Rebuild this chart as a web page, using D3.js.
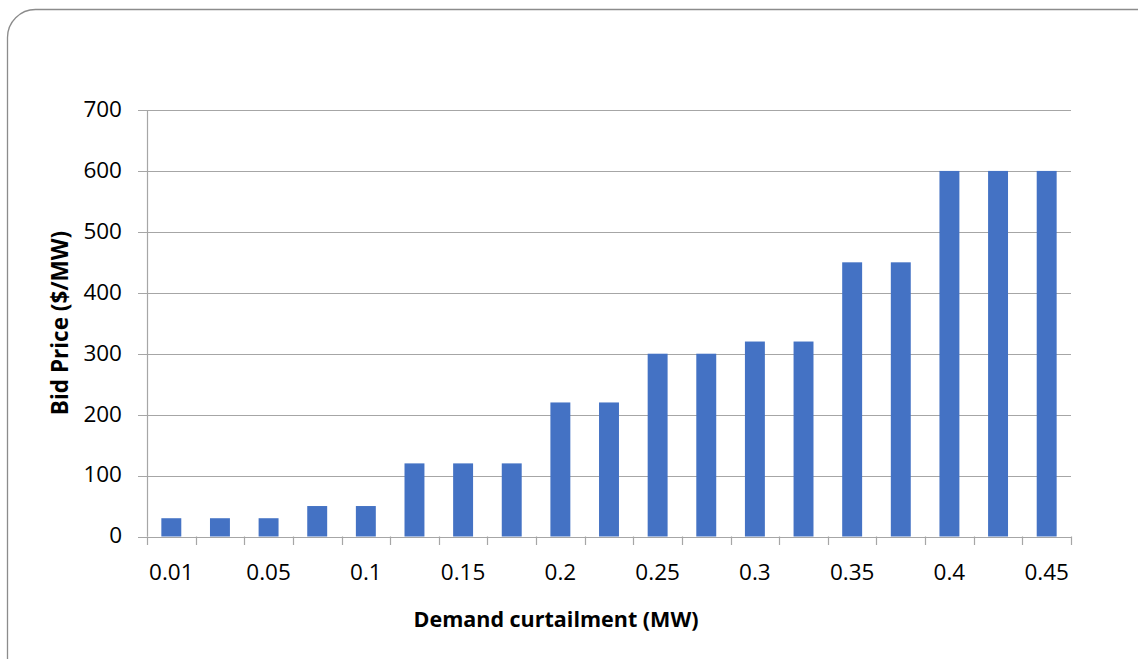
<!DOCTYPE html>
<html>
<head>
<meta charset="utf-8">
<script src="https://cdn.jsdelivr.net/npm/d3@7"></script>
<style>
  html, body { margin: 0; padding: 0; background: #fff; }
  svg { display: block; }
  text { font-family: "Open Sans", "Noto Sans", sans-serif; fill: #000; }
</style>
</head>
<body>
<svg id="chart" width="1138" height="659"></svg>
<script>
// Demand curtailment steps (MW) and the bid price offered for each step ($/MW)
const categories = ["0.01", "0.025", "0.05", "0.075", "0.1", "0.125", "0.15", "0.175", "0.2", "0.225",
                    "0.25", "0.275", "0.3", "0.325", "0.35", "0.375", "0.4", "0.425", "0.45"];
const bidPrice = [30, 30, 30, 50, 50, 120, 120, 120, 220, 220, 300, 300, 320, 320, 450, 450, 600, 600, 600];
const yTicks = [0, 100, 200, 300, 400, 500, 600, 700];
// Only every other category is labelled along the axis
const xLabelled = ["0.01", "0.05", "0.1", "0.15", "0.2", "0.25", "0.3", "0.35", "0.4", "0.45"];

const svg = d3.select("#chart");

// chart frame with rounded corners
svg.append("rect")
  .attr("x", 7.5).attr("y", 9.5)
  .attr("width", 1160).attr("height", 680)
  .attr("rx", 28).attr("ry", 28)
  .attr("fill", "#fff")
  .attr("stroke", "#8c8c8c").attr("stroke-width", 1.3);

const plot = { left: 147, right: 1071, top: 110, bottom: 536.5 };

const x = d3.scaleBand()
  .domain(categories)
  .range([plot.left, plot.right])
  .paddingInner(0.59)
  .paddingOuter(0.295);

const y = d3.scaleLinear()
  .domain([0, 700])
  .range([plot.bottom, plot.top]);

// horizontal gridlines + tick stubs to the left of the axis
svg.append("g")
  .selectAll("line")
  .data(yTicks)
  .join("line")
  .attr("x1", plot.left - 9).attr("x2", plot.right)
  .attr("y1", d => Math.round(y(d)) + 0.5).attr("y2", d => Math.round(y(d)) + 0.5)
  .attr("stroke", "#a6a6a6").attr("stroke-width", 1.2);

// y tick labels
svg.append("g")
  .selectAll("text")
  .data(yTicks)
  .join("text")
  .attr("x", plot.left - 25)
  .attr("y", d => y(d) - 1)
  .attr("dy", "0.35em")
  .attr("text-anchor", "end")
  .attr("font-size", 22.5)
  .text(d => d);

// bars
svg.append("g")
  .selectAll("rect")
  .data(categories.map((c, i) => ({ c, v: bidPrice[i] })))
  .join("rect")
  .attr("x", d => x(d.c))
  .attr("y", d => y(d.v))
  .attr("width", x.bandwidth())
  .attr("height", d => y(0) - y(d.v))
  .attr("fill", "#4472c4");

// vertical axis line
svg.append("line")
  .attr("x1", plot.left + 0.5).attr("x2", plot.left + 0.5)
  .attr("y1", plot.top).attr("y2", plot.bottom)
  .attr("stroke", "#a6a6a6").attr("stroke-width", 1.2);

// category axis: tick marks at band boundaries
const step = x.step();
const boundaries = d3.range(categories.length + 1).map(i => plot.left + i * step);
svg.append("line")
  .attr("x1", plot.left).attr("x2", plot.right)
  .attr("y1", Math.round(y(0)) + 0.5).attr("y2", Math.round(y(0)) + 0.5)
  .attr("stroke", "#a6a6a6").attr("stroke-width", 1.2);
svg.append("g")
  .selectAll("line")
  .data(boundaries)
  .join("line")
  .attr("x1", d => Math.round(d) + 0.5).attr("x2", d => Math.round(d) + 0.5)
  .attr("y1", y(0)).attr("y2", y(0) + 8.5)
  .attr("stroke", "#a6a6a6").attr("stroke-width", 1.2);

// category labels (every other one)
svg.append("g")
  .selectAll("text")
  .data(xLabelled)
  .join("text")
  .attr("x", d => x(d) + x.bandwidth() / 2)
  .attr("y", 572)
  .attr("dy", "0.35em")
  .attr("text-anchor", "middle")
  .attr("font-size", 22.5)
  .text(d => d);

// axis titles
svg.append("text")
  .attr("x", 556).attr("y", 619)
  .attr("dy", "0.35em")
  .attr("text-anchor", "middle")
  .attr("font-size", 21.5)
  .attr("font-weight", "bold")
  .text("Demand curtailment (MW)");

svg.append("text")
  .attr("transform", "translate(60,323) rotate(-90)")
  .attr("dy", "0.35em")
  .attr("text-anchor", "middle")
  .attr("font-size", 22.5)
  .attr("font-weight", "bold")
  .text("Bid Price ($/MW)");
</script>
</body>
</html>
